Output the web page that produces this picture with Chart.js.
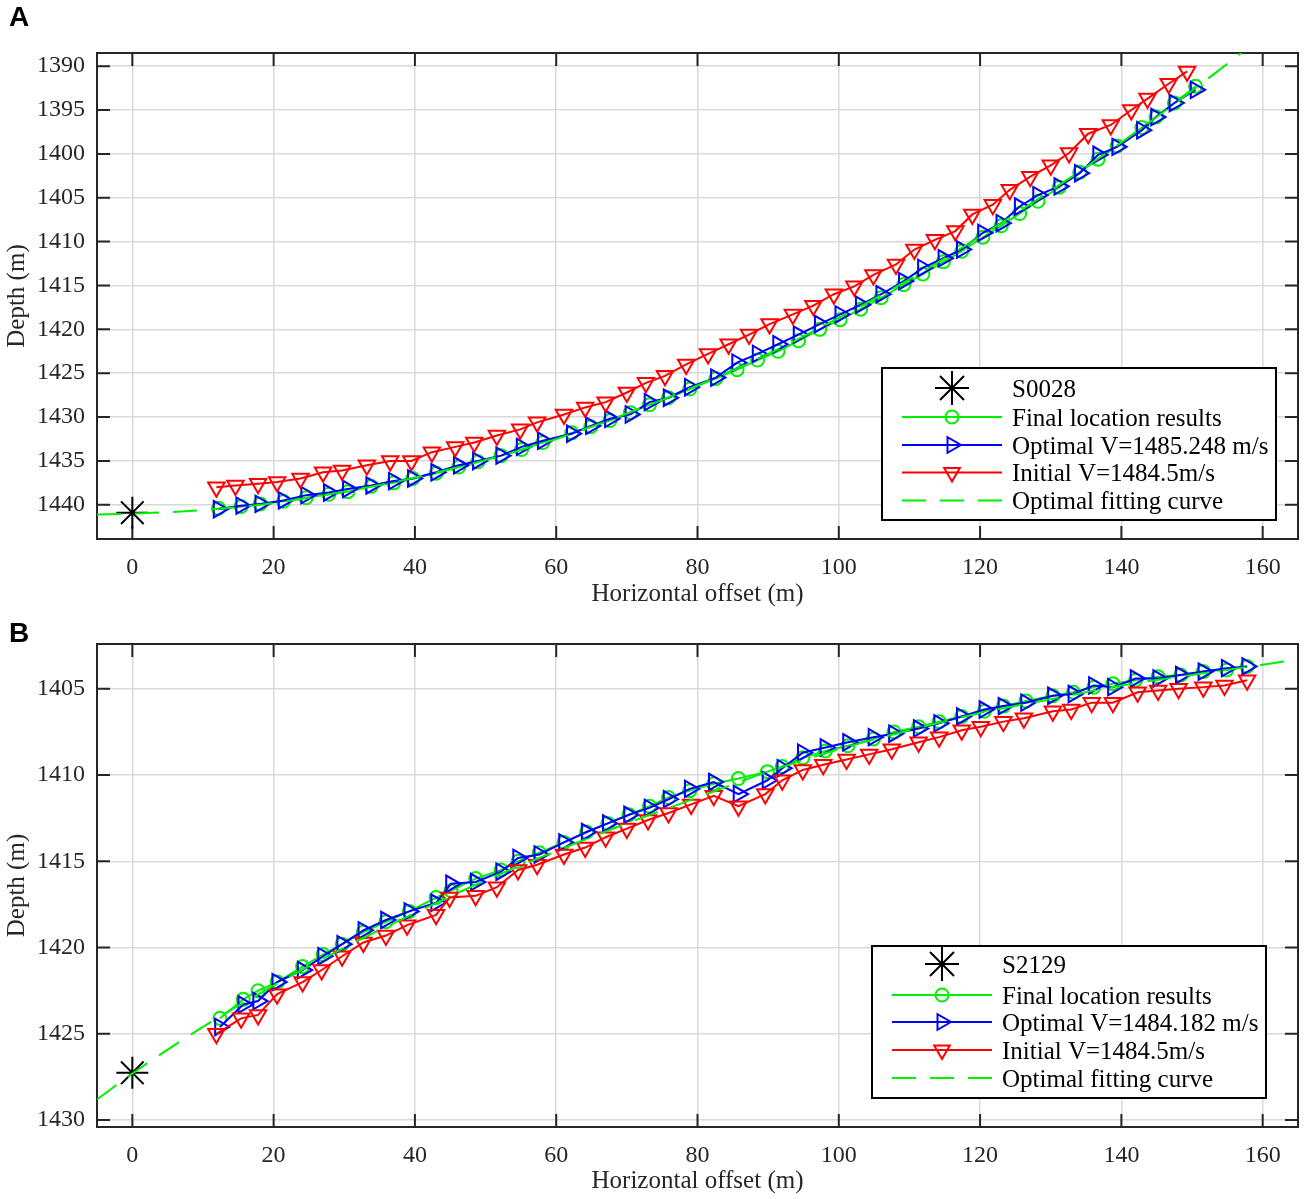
<!DOCTYPE html>
<html>
<head>
<meta charset="utf-8">
<script src="https://cdn.jsdelivr.net/npm/chart.js@4.4.1/dist/chart.umd.min.js"></script>
<style>
  html, body { margin: 0; padding: 0; background: #fff; overflow: hidden; }
  #page { position: relative; width: 1305px; height: 1199px; overflow: hidden; }
  canvas { position: absolute; left: 0; display: block; }
  .tag { position: absolute; left: 9px; font: bold 28px "Liberation Sans", Arial, sans-serif; color: #000; line-height: 1; }
</style>
</head>
<body>
<div id="page">
  <canvas id="chartA" width="1305" height="612" style="top:0;width:1305px;height:612px"></canvas>
  <canvas id="chartB" width="1305" height="587" style="top:612px;width:1305px;height:587px"></canvas>
  <div class="tag" style="top:3px">A</div>
  <div class="tag" style="top:619px">B</div>
</div>
<script>
// ---- shared axis ticks ----
const xTicks = [0, 20, 40, 60, 80, 100, 120, 140, 160];

// ---- panel A (S0028) ----
const aLabels = ['S0028', 'Final location results', 'Optimal V=1485.248 m/s', 'Initial V=1484.5m/s', 'Optimal fitting curve'];
const aYTicks = [1390, 1395, 1400, 1405, 1410, 1415, 1420, 1425, 1430, 1435, 1440];
const aStar = { x: 0, y: 1440.9 };

const aOptX = [12.2, 15.4, 18.1, 21.4, 24.6, 27.8, 30.5, 33.8, 37.0, 39.7, 43.0, 46.2, 48.9, 52.2, 55.1, 58.1, 62.2, 64.9, 67.6, 70.5, 73.2, 75.9, 78.9, 82.6, 85.6, 88.5, 91.4, 94.3, 97.3, 100.2, 103.1, 106.0, 109.2, 111.9, 114.8, 117.4, 120.4, 123.0, 125.6, 128.2, 131.2, 134.1, 136.7, 139.4, 142.9, 144.9, 147.5, 150.5];
const aOptY = [1440.5, 1440.1, 1439.9, 1439.5, 1438.9, 1438.6, 1438.2, 1437.8, 1437.3, 1437.0, 1436.3, 1435.5, 1435.0, 1434.4, 1433.4, 1432.7, 1431.9, 1431.0, 1430.2, 1429.7, 1428.3, 1427.8, 1426.6, 1425.5, 1423.8, 1422.8, 1421.7, 1420.6, 1419.4, 1418.3, 1417.2, 1416.0, 1414.5, 1413.0, 1411.9, 1410.9, 1409.0, 1407.9, 1406.0, 1404.7, 1403.7, 1402.2, 1400.1, 1399.2, 1397.3, 1395.8, 1394.2, 1392.7];

const aFinY = [1440.4, 1440.2, 1439.9, 1439.6, 1439.2, 1438.8, 1438.5, 1437.9, 1437.5, 1437.0, 1436.4, 1435.7, 1435.1, 1434.4, 1433.7, 1432.9, 1431.8, 1431.1, 1430.4, 1429.5, 1428.6, 1427.8, 1426.8, 1425.6, 1424.6, 1423.5, 1422.5, 1421.3, 1420.0, 1418.9, 1417.7, 1416.4, 1414.9, 1413.7, 1412.3, 1411.1, 1409.5, 1408.2, 1406.8, 1405.4, 1403.8, 1402.1, 1400.6, 1399.1, 1397.0, 1395.8, 1394.2, 1392.3];

const aIniX = [11.9, 14.6, 17.8, 20.5, 23.8, 27.0, 29.7, 33.2, 36.5, 39.5, 42.4, 45.7, 48.4, 51.6, 54.9, 57.3, 61.1, 64.1, 67.0, 70.0, 72.7, 75.4, 78.4, 81.5, 84.4, 87.3, 90.2, 93.5, 96.4, 99.3, 102.2, 104.9, 108.1, 110.7, 113.6, 116.5, 118.9, 121.8, 124.2, 127.1, 130.0, 132.6, 135.3, 138.5, 141.4, 143.7, 146.7, 149.3];
const aIniY = [1438.0, 1437.8, 1437.6, 1437.4, 1437.0, 1436.3, 1436.1, 1435.5, 1435.0, 1435.0, 1434.0, 1433.4, 1432.9, 1432.1, 1431.4, 1430.6, 1429.7, 1428.9, 1428.3, 1427.2, 1426.1, 1425.3, 1424.0, 1422.8, 1421.7, 1420.6, 1419.4, 1418.3, 1417.3, 1416.0, 1415.1, 1413.8, 1412.6, 1410.9, 1409.8, 1408.8, 1406.9, 1405.8, 1404.1, 1402.6, 1401.3, 1399.9, 1397.7, 1396.7, 1395.0, 1393.7, 1392.0, 1390.6];

const aFitX = [-5, 0, 10, 20, 30, 40, 50, 60, 70, 80, 90, 100, 110, 120, 130, 140, 150, 160];
const aFitY = [1441.1, 1441.0, 1440.6, 1439.8, 1438.5, 1436.9, 1434.9, 1432.5, 1429.6, 1426.4, 1422.8, 1418.7, 1414.3, 1409.4, 1404.2, 1398.7, 1392.8, 1386.6];

// ---- panel B (S2129) ----
const bLabels = ['S2129', 'Final location results', 'Optimal V=1484.182 m/s', 'Initial V=1484.5m/s', 'Optimal fitting curve'];
const bYTicks = [1405, 1410, 1415, 1420, 1425, 1430];
const bStar = { x: 0, y: 1427.26 };

const bOptX = [12.4, 15.7, 17.8, 20.5, 24.1, 27.0, 29.7, 32.7, 35.9, 39.2, 43.0, 45.1, 48.6, 52.2, 54.6, 57.6, 61.1, 64.3, 67.3, 70.3, 73.2, 75.9, 78.9, 82.3, 85.8, 89.9, 92.0, 94.9, 98.1, 101.3, 104.9, 107.8, 111.3, 114.2, 117.4, 120.6, 123.3, 126.5, 130.3, 133.2, 136.1, 138.8, 142.0, 145.2, 148.4, 151.6, 154.9, 157.8];
const bOptY = [1424.6, 1423.3, 1423.1, 1422.0, 1421.3, 1420.5, 1419.8, 1419.0, 1418.4, 1417.9, 1417.4, 1416.3, 1416.2, 1415.6, 1414.8, 1414.6, 1413.9, 1413.3, 1412.8, 1412.3, 1411.9, 1411.4, 1410.8, 1410.4, 1411.1, 1410.3, 1409.6, 1408.7, 1408.4, 1408.1, 1407.8, 1407.6, 1407.3, 1407.0, 1406.6, 1406.2, 1406.0, 1405.8, 1405.4, 1405.3, 1404.8, 1404.9, 1404.4, 1404.4, 1404.2, 1404.0, 1403.8, 1403.7];

const bFinY = [1424.1, 1423.0, 1422.5, 1422.0, 1421.1, 1420.4, 1419.8, 1419.1, 1418.5, 1417.9, 1417.1, 1416.7, 1416.0, 1415.5, 1415.0, 1414.5, 1413.9, 1413.3, 1412.8, 1412.3, 1411.8, 1411.3, 1410.9, 1410.5, 1410.2, 1409.8, 1409.5, 1409.0, 1408.6, 1408.3, 1407.9, 1407.5, 1407.2, 1406.9, 1406.6, 1406.3, 1406.0, 1405.7, 1405.4, 1405.2, 1404.9, 1404.7, 1404.5, 1404.3, 1404.2, 1404.0, 1403.9, 1403.7];

const bIniX = [11.9, 15.4, 17.8, 20.5, 24.1, 26.8, 29.7, 32.7, 35.9, 38.9, 43.0, 44.9, 48.6, 51.6, 54.6, 57.3, 61.1, 64.1, 67.0, 70.0, 73.0, 75.9, 79.1, 82.3, 85.8, 89.6, 92.0, 94.9, 97.8, 101.1, 104.3, 107.5, 111.3, 114.2, 117.4, 120.1, 123.3, 126.2, 130.3, 132.9, 135.8, 138.8, 142.3, 145.2, 148.1, 151.6, 154.6, 157.8];
const bIniY = [1425.0, 1424.1, 1423.9, 1422.7, 1422.0, 1421.3, 1420.5, 1419.7, 1419.3, 1418.7, 1418.1, 1417.1, 1417.0, 1416.5, 1415.5, 1415.2, 1414.6, 1414.2, 1413.6, 1413.1, 1412.6, 1412.2, 1411.7, 1411.2, 1411.8, 1411.1, 1410.3, 1409.7, 1409.4, 1409.1, 1408.8, 1408.5, 1408.1, 1407.8, 1407.4, 1407.2, 1406.9, 1406.7, 1406.3, 1406.2, 1405.8, 1405.8, 1405.2, 1405.1, 1405.0, 1404.9, 1404.8, 1404.5];

const bFitX = [-5, 0, 10, 20, 30, 40, 50, 60, 70, 80, 90, 100, 110, 120, 130, 140, 150, 160, 165];
const bFitY = [1428.8, 1427.3, 1424.6, 1422.2, 1420.0, 1418.0, 1416.1, 1414.4, 1412.8, 1411.3, 1409.8, 1408.5, 1407.4, 1406.4, 1405.6, 1404.8, 1404.2, 1403.6, 1403.3];

// ---- drawing helpers ----
const SERIF = '"Liberation Serif", "Times New Roman", serif';
const GREEN = '#00f000';
const BLUE = '#0000ff';
const RED = '#ff0000';
const AXIS = '#262626';

const pairs = (xs, ys) => xs.map((x, i) => ({ x: x, y: ys[i] }));

function drawMarker(ctx, style, x, y, r, rot) {
    ctx.beginPath();
    if (style === 'circle') {
        ctx.arc(x, y, r, 0, Math.PI * 2);
    } else if (style === 'triangle') {
        let a = rot * Math.PI / 180;
        for (let k = 0; k < 3; k++) {
            const px = x + Math.sin(a) * r, py = y - Math.cos(a) * r;
            if (k === 0) ctx.moveTo(px, py); else ctx.lineTo(px, py);
            a += 2 * Math.PI / 3;
        }
        ctx.closePath();
    } else if (style === 'star') {
        for (let k = 0; k < 4; k++) {
            const a = k * Math.PI / 4;
            ctx.moveTo(x + Math.cos(a) * r, y + Math.sin(a) * r);
            ctx.lineTo(x - Math.cos(a) * r, y - Math.sin(a) * r);
        }
    }
    ctx.stroke();
}

// frame + inward ticks on all four sides
const axesBox = {
    id: 'axesBox',
    beforeDatasetsDraw(chart) {
        const { ctx, chartArea: a, scales } = chart;
        const L = 13;
        ctx.save();
        ctx.strokeStyle = AXIS;
        ctx.lineWidth = 2;
        ctx.beginPath();
        scales.x.ticks.forEach(t => {
            const px = scales.x.getPixelForValue(t.value);
            ctx.moveTo(px, a.bottom); ctx.lineTo(px, a.bottom - L);
            ctx.moveTo(px, a.top); ctx.lineTo(px, a.top + L);
        });
        scales.y.ticks.forEach(t => {
            const py = scales.y.getPixelForValue(t.value);
            ctx.moveTo(a.left, py); ctx.lineTo(a.left + L, py);
            ctx.moveTo(a.right, py); ctx.lineTo(a.right - L, py);
        });
        ctx.stroke();
        ctx.strokeRect(a.left, a.top, a.right - a.left, a.bottom - a.top);
        ctx.restore();
    }
};

// legend box drawn inside the plot
const boxLegend = {
    id: 'boxLegend',
    afterDraw(chart, args, opts) {
        const ctx = chart.ctx;
        const b = opts.box;
        ctx.save();
        ctx.fillStyle = '#fff';
        ctx.fillRect(b.x, b.y, b.w, b.h);
        ctx.strokeStyle = '#000';
        ctx.lineWidth = 2;
        ctx.strokeRect(b.x, b.y, b.w, b.h);
        opts.order.forEach((di, r) => {
            const ds = chart.data.datasets[di];
            const y = b.y + opts.rows[r];
            if (ds.showLine) {
                ctx.save();
                ctx.strokeStyle = ds.borderColor;
                ctx.lineWidth = ds.borderWidth;
                ctx.setLineDash(ds.borderDash || []);
                ctx.beginPath();
                ctx.moveTo(b.x + 20, y);
                ctx.lineTo(b.x + 120, y);
                ctx.stroke();
                ctx.restore();
            }
            if (ds.pointRadius > 0) {
                ctx.strokeStyle = ds.pointBorderColor || ds.borderColor;
                ctx.lineWidth = ds.pointBorderWidth;
                ctx.setLineDash([]);
                drawMarker(ctx, ds.pointStyle, b.x + 70, y, ds.legendRadius || ds.pointRadius, ds.pointRotation || 0);
            }
            ctx.fillStyle = '#000';
            ctx.font = '25px ' + SERIF;
            ctx.textBaseline = 'middle';
            ctx.fillText(ds.label, b.x + 130, y + 2);
        });
        ctx.restore();
    }
};

function makeChart(id, d) {
    const datasets = [
        {
            label: d.labels[4], data: pairs(d.fitX, d.fitY), showLine: true,
            borderColor: GREEN, borderWidth: 2, borderDash: [24, 14],
            pointRadius: 0, cubicInterpolationMode: 'monotone'
        },
        {
            label: d.labels[3], data: pairs(d.iniX, d.iniY), showLine: true,
            borderColor: RED, borderWidth: 2, tension: 0,
            pointStyle: 'triangle', pointRotation: 180, pointRadius: 9.5, legendRadius: 9,
            pointBorderColor: RED, pointBackgroundColor: 'rgba(0,0,0,0)', pointBorderWidth: 2
        },
        {
            label: d.labels[2], data: pairs(d.optX, d.optY), showLine: true,
            borderColor: BLUE, borderWidth: 2, tension: 0,
            pointStyle: 'triangle', pointRotation: 90, pointRadius: 9.5, legendRadius: 9,
            pointBorderColor: BLUE, pointBackgroundColor: 'rgba(0,0,0,0)', pointBorderWidth: 2
        },
        {
            label: d.labels[1], data: pairs(d.optX, d.finY), showLine: true,
            borderColor: GREEN, borderWidth: 2, tension: 0,
            pointStyle: 'circle', pointRadius: 6.5, legendRadius: 6.5,
            pointBorderColor: GREEN, pointBackgroundColor: 'rgba(0,0,0,0)', pointBorderWidth: 2
        },
        {
            label: d.labels[0], data: [d.star], showLine: false,
            borderColor: '#000', pointStyle: 'star', pointRadius: 16, legendRadius: 17,
            pointBorderColor: '#000', pointBorderWidth: 2
        }
    ];

    return new Chart(document.getElementById(id), {
        type: 'scatter',
        data: { datasets: datasets },
        plugins: [axesBox, boxLegend],
        options: {
            responsive: false,
            animation: false,
            devicePixelRatio: 1,
            layout: { autoPadding: false, padding: { top: d.padTop, right: 7, left: 0, bottom: 0 } },
            plugins: {
                legend: { display: false },
                tooltip: { enabled: false },
                boxLegend: { box: d.legendBox, rows: d.legendRows, order: [4, 3, 2, 1, 0] }
            },
            scales: {
                x: {
                    type: 'linear', min: -5, max: 165,
                    afterBuildTicks: s => { s.ticks = xTicks.map(v => ({ value: v })); },
                    afterFit: s => { s.height = d.xAxisH; s.paddingLeft = 0; s.paddingRight = 0; },
                    grid: { color: '#d8d8d8', lineWidth: 1.5, drawTicks: false },
                    border: { display: false },
                    ticks: { padding: 14, color: AXIS, font: { family: SERIF, size: 24 }, callback: v => String(v) },
                    title: { display: true, text: 'Horizontal offset (m)', color: AXIS, font: { family: SERIF, size: 25 }, padding: { top: 4, bottom: 3 } }
                },
                y: {
                    type: 'linear', reverse: true, min: d.yMin, max: d.yMax,
                    afterBuildTicks: s => { s.ticks = d.yTicks.map(v => ({ value: v })); },
                    afterFit: s => { s.width = 97; s.paddingTop = 0; s.paddingBottom = 0; },
                    grid: { color: '#d8d8d8', lineWidth: 1.5, drawTicks: false },
                    border: { display: false },
                    ticks: { padding: 12, color: AXIS, font: { family: SERIF, size: 24 }, callback: v => String(v) },
                    title: { display: true, text: 'Depth (m)', color: AXIS, font: { family: SERIF, size: 25 }, padding: { top: 2, bottom: 4 } }
                }
            }
        }
    });
}

makeChart('chartA', {
    labels: aLabels, yTicks: aYTicks, star: aStar,
    optX: aOptX, optY: aOptY, finY: aFinY, iniX: aIniX, iniY: aIniY, fitX: aFitX, fitY: aFitY,
    yMin: 1388.5, yMax: 1443.9, padTop: 53, xAxisH: 73,
    legendBox: { x: 882, y: 368, w: 394, h: 152 },
    legendRows: [20, 49, 77, 104.5, 132.5]
});

makeChart('chartB', {
    labels: bLabels, yTicks: bYTicks, star: bStar,
    optX: bOptX, optY: bOptY, finY: bFinY, iniX: bIniX, iniY: bIniY, fitX: bFitX, fitY: bFitY,
    yMin: 1402.4, yMax: 1430.4, padTop: 32, xAxisH: 72,
    legendBox: { x: 872, y: 334, w: 394, h: 152 },
    legendRows: [18, 49, 76, 104, 132]
});
</script>
</body>
</html>
